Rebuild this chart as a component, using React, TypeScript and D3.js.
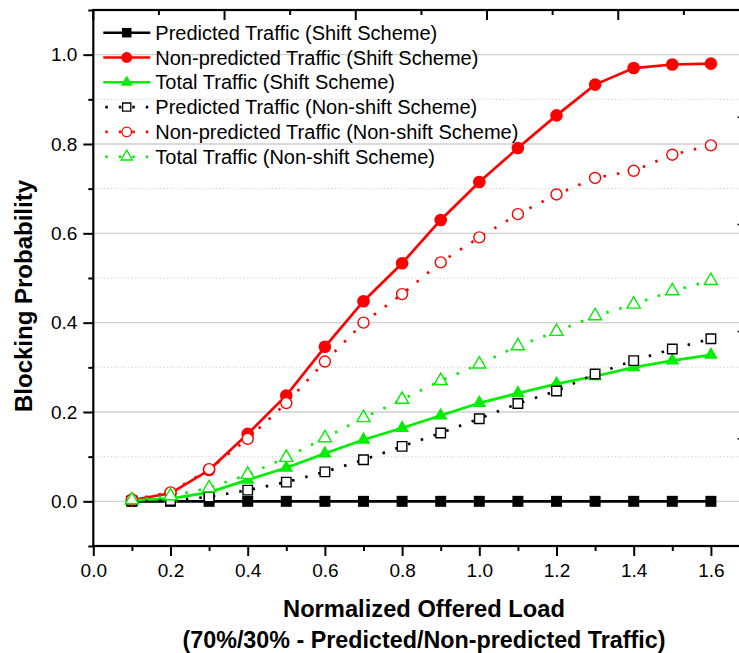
import React, { useEffect, useRef } from 'react';
import * as d3 from 'd3';

// Offered load values on the x axis
const loads = [0.1, 0.2, 0.3, 0.4, 0.5, 0.6, 0.7, 0.8, 0.9, 1.0, 1.1, 1.2, 1.3, 1.4, 1.5, 1.6];

// Blocking probabilities
const predShift = [0, 0, 0, 0, 0, 0, 0, 0, 0, 0, 0, 0, 0, 0, 0, 0];
const nonPredShift = [0.003, 0.018, 0.07, 0.151, 0.237, 0.346, 0.448, 0.533, 0.63, 0.715, 0.791, 0.864, 0.933, 0.97, 0.978, 0.98];
const totalShift = [0.002, 0.006, 0.02, 0.048, 0.075, 0.107, 0.138, 0.164, 0.192, 0.22, 0.242, 0.263, 0.28, 0.3, 0.315, 0.328];
const predNonShift = [0.001, 0.002, 0.01, 0.025, 0.043, 0.066, 0.093, 0.123, 0.153, 0.185, 0.219, 0.247, 0.285, 0.315, 0.341, 0.364];
const nonPredNonShift = [0.004, 0.02, 0.072, 0.14, 0.22, 0.313, 0.4, 0.464, 0.535, 0.591, 0.643, 0.687, 0.724, 0.74, 0.776, 0.797];
const totalNonShift = [0.003, 0.012, 0.03, 0.06, 0.098, 0.142, 0.187, 0.228, 0.27, 0.307, 0.348, 0.38, 0.415, 0.441, 0.471, 0.494];

const seriesNames = [
  'Predicted Traffic (Shift Scheme)',
  'Non-predicted Traffic (Shift Scheme)',
  'Total Traffic (Shift Scheme)',
  'Predicted Traffic (Non-shift Scheme)',
  'Non-predicted Traffic (Non-shift Scheme)',
  'Total Traffic (Non-shift Scheme)',
];

// Axis ticks
const xLabelTicks = [0, 0.2, 0.4, 0.6, 0.8, 1.0, 1.2, 1.4, 1.6];
const xMinorTicks = [0.1, 0.3, 0.5, 0.7, 0.9, 1.1, 1.3, 1.5, 1.7];
const yLabelTicks = [0, 0.2, 0.4, 0.6, 0.8, 1.0];
const yMinorTicks = [-0.1, 0.1, 0.3, 0.5, 0.7, 0.9, 1.1];

const xTitle = 'Normalized Offered Load';
const xSubtitle = '(70%/30% - Predicted/Non-predicted Traffic)';
const yTitle = 'Blocking Probability';

const FONT = '"Liberation Sans", Arial, Helvetica, sans-serif';

const App = () => {
  const svgRef = useRef(null);

  useEffect(() => {
    const width = 739;
    const height = 653;
    const margin = { top: 10, left: 93.3 };
    const innerW = 656.2; // right frame sits just past the picture edge
    const innerH = 536;

    const svg = d3.select(svgRef.current).attr('width', width).attr('height', height);
    svg.selectAll('*').remove();

    const g = svg.append('g').attr('transform', `translate(${margin.left},${margin.top})`);

    const x = d3.scaleLinear().domain([0, 1.7]).range([0, innerW]);
    const y = d3.scaleLinear().domain([-0.1, 1.1]).range([innerH, 0]);

    // --- horizontal grid: solid at major, dotted at minor ---
    g.append('g').selectAll('line')
      .data(yLabelTicks)
      .join('line')
        .attr('x1', 0).attr('x2', innerW)
        .attr('y1', d => y(d)).attr('y2', d => y(d))
        .attr('stroke', '#cfcfcf').attr('stroke-width', 1.3);
    g.append('g').selectAll('line')
      .data(yMinorTicks.filter(d => d > 0 && d < 1.05))
      .join('line')
        .attr('x1', 0).attr('x2', innerW)
        .attr('y1', d => y(d)).attr('y2', d => y(d))
        .attr('stroke', '#c4c4c4').attr('stroke-width', 1)
        .attr('stroke-dasharray', '1,2.5');

    // --- series ---
    const series = [
      { name: seriesNames[0], values: predShift, color: '#000000', symbol: d3.symbolSquare, size: 121, filled: true, dotted: false },
      { name: seriesNames[1], values: nonPredShift, color: '#ff0000', symbol: d3.symbolCircle, size: 125, filled: true, dotted: false },
      { name: seriesNames[2], values: totalShift, color: '#00ee00', symbol: d3.symbolTriangle, size: 82, filled: true, dotted: false },
      { name: seriesNames[3], values: predNonShift, color: '#000000', symbol: d3.symbolSquare, size: 90, filled: false, dotted: true },
      { name: seriesNames[4], values: nonPredNonShift, color: '#ff0000', symbol: d3.symbolCircle, size: 95, filled: false, dotted: true },
      { name: seriesNames[5], values: totalNonShift, color: '#00ee00', symbol: d3.symbolTriangle, size: 75, filled: false, dotted: true },
    ];

    const line = d3.line().x(d => x(d[0])).y(d => y(d[1]));

    series.forEach(s => {
      const pts = loads.map((l, i) => [l, s.values[i]]);
      g.append('path')
        .datum(pts)
        .attr('d', line)
        .attr('fill', 'none')
        .attr('stroke', s.color)
        .attr('stroke-width', 2.7)
        .attr('stroke-dasharray', s.dotted ? '2.5,11' : null);

      g.append('g').selectAll('path')
        .data(pts)
        .join('path')
          .attr('transform', d => `translate(${x(d[0])},${y(d[1])})`)
          .attr('d', d3.symbol().type(s.symbol).size(s.size))
          .attr('fill', s.filled ? s.color : '#ffffff')
          .attr('stroke', s.filled ? 'none' : s.color)
          .attr('stroke-width', 1.4);
    });

    // --- axes frame ---
    const xAxis = d3.axisBottom(x).tickValues(xLabelTicks).tickSize(10).tickPadding(8)
      .tickFormat(d3.format('.1f'));
    const xAxisMinor = d3.axisBottom(x).tickValues(xMinorTicks).tickSize(5).tickFormat(() => '');
    const yAxis = d3.axisLeft(y).tickValues(yLabelTicks).tickSize(10).tickPadding(6)
      .tickFormat(d3.format('.1f'));
    const yAxisMinor = d3.axisLeft(y).tickValues(yMinorTicks).tickSize(5).tickFormat(() => '');

    const styleAxis = sel => {
      sel.select('.domain').remove();
      sel.selectAll('line').attr('stroke', '#000').attr('stroke-width', 2);
      sel.selectAll('text').attr('fill', '#000').style('font-family', FONT).style('font-size', '19px');
    };

    g.append('g').attr('transform', `translate(0,${innerH})`).call(xAxis).call(styleAxis);
    g.append('g').attr('transform', `translate(0,${innerH})`).call(xAxisMinor).call(styleAxis);
    g.append('g').call(yAxis).call(styleAxis);
    g.append('g').call(yAxisMinor).call(styleAxis);

    // Top and right axes come from a second layer with their own divisions
    const xTop = d3.scaleLinear().domain([0, 10]).range([0, innerW]);
    g.append('g').selectAll('line')
      .data(d3.range(0, 11))
      .join('line')
        .attr('x1', d => xTop(d)).attr('x2', d => xTop(d))
        .attr('y1', 0).attr('y2', d => (d % 2 === 0 ? 10 : 5))
        .attr('stroke', '#000').attr('stroke-width', 2);
    const yRight = d3.scaleLinear().domain([0, 5]).range([innerH, 0]);
    g.append('g').selectAll('line')
      .data(d3.range(0, 6))
      .join('line')
        .attr('x1', innerW).attr('x2', innerW - 12)
        .attr('y1', d => yRight(d)).attr('y2', d => yRight(d))
        .attr('stroke', '#000').attr('stroke-width', 1.5);

    g.append('rect')
      .attr('x', 0).attr('y', 0).attr('width', innerW).attr('height', innerH)
      .attr('fill', 'none').attr('stroke', '#000').attr('stroke-width', 2.2);

    // --- legend ---
    const legend = g.append('g');
    const rowY = i => 22.7 + i * 24.8;
    series.forEach((s, i) => {
      const row = legend.append('g').attr('transform', `translate(0,${rowY(i)})`);
      row.append('line')
        .attr('x1', 10).attr('x2', 57)
        .attr('y1', 0).attr('y2', 0)
        .attr('stroke', s.color)
        .attr('stroke-width', 2.6)
        .attr('stroke-dasharray', s.dotted ? '2.5,11' : null)
        .attr('stroke-dashoffset', s.dotted ? -2 : null);
      row.append('path')
        .attr('transform', 'translate(33.4,0)')
        .attr('d', d3.symbol().type(s.symbol).size(s.size * 0.75))
        .attr('fill', s.filled ? s.color : '#ffffff')
        .attr('stroke', s.filled ? 'none' : s.color)
        .attr('stroke-width', 1.3);
      row.append('text')
        .attr('x', 62).attr('y', 7)
        .style('font-family', FONT).style('font-size', '20px')
        .attr('fill', '#000')
        .text(s.name);
    });

    // --- titles ---
    svg.append('text')
      .attr('transform', 'translate(32,296) rotate(-90)')
      .attr('text-anchor', 'middle')
      .style('font-family', FONT).style('font-size', '24px').style('font-weight', 'bold')
      .text(yTitle);
    svg.append('text')
      .attr('x', 424).attr('y', 617)
      .attr('text-anchor', 'middle')
      .attr('textLength', 282).attr('lengthAdjust', 'spacingAndGlyphs')
      .style('font-family', FONT).style('font-size', '24px').style('font-weight', 'bold')
      .text(xTitle);
    svg.append('text')
      .attr('x', 424).attr('y', 648)
      .attr('text-anchor', 'middle')
      .attr('textLength', 483).attr('lengthAdjust', 'spacingAndGlyphs')
      .style('font-family', FONT).style('font-size', '24px').style('font-weight', 'bold')
      .text(xSubtitle);
  }, []);

  return (
    <div style={{ position: 'absolute', left: 0, top: 0, background: '#fff' }}>
      <svg ref={svgRef} style={{ display: 'block' }}></svg>
    </div>
  );
};

export default App;
